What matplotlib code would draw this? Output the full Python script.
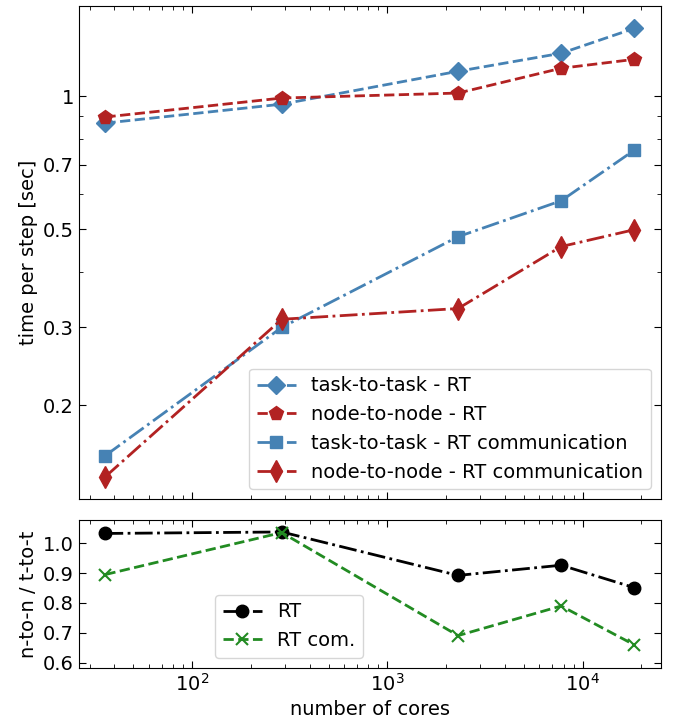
import matplotlib
matplotlib.use("Agg")
import matplotlib.pyplot as plt
from matplotlib.ticker import FixedLocator, LogLocator, NullFormatter, FixedFormatter, NullLocator
import numpy as np

# number of cores used in each run
cores = [36, 288, 2304, 7776, 18432]

# time per step [sec]
t2t_rt = [0.869, 0.959, 1.138, 1.250, 1.423]
n2n_rt = [0.897, 0.990, 1.016, 1.156, 1.211]
t2t_comm = [0.154, 0.300, 0.481, 0.580, 0.755]
n2n_comm = [0.138, 0.313, 0.331, 0.457, 0.499]

# ratios node-to-node / task-to-task
ratio_rt = [1.032, 1.037, 0.892, 0.926, 0.851]
ratio_com = [0.895, 1.035, 0.691, 0.790, 0.660]

yticks_top = [0.2, 0.3, 0.5, 0.7, 1.0]
yticklabels_top = ["0.2", "0.3", "0.5", "0.7", "1"]
yticks_bot = [0.6, 0.7, 0.8, 0.9, 1.0]

plt.rcParams.update({
    "font.family": "DejaVu Sans",
    "font.size": 14,
    "xtick.direction": "in",
    "ytick.direction": "in",
    "xtick.top": True,
    "ytick.right": True,
    "xtick.major.size": 5,
    "ytick.major.size": 5,
    "xtick.minor.size": 2.8,
    "ytick.minor.size": 2.8,
    "xtick.minor.visible": True,
})

BLUE = "#4682B4"
RED = "#B22222"
GREEN = "#228B22"

fig = plt.figure(figsize=(6.75, 7.23), dpi=100)
ax = fig.add_axes([0.117, 0.3098, 0.862, 0.682])
axr = fig.add_axes([0.117, 0.0761, 0.862, 0.2047], sharex=ax)

ax.plot(cores, t2t_rt, ls="--", color=BLUE, marker="D", ms=9, lw=2,
        label="task-to-task - RT")
ax.plot(cores, n2n_rt, ls="--", color=RED, marker="p", ms=10, lw=2,
        label="node-to-node - RT")
ax.plot(cores, t2t_comm, ls="-.", color=BLUE, marker="s", ms=9, lw=2,
        label="task-to-task - RT communication")
ax.plot(cores, n2n_comm, ls="-.", color=RED, marker="d", ms=11, lw=2,
        label="node-to-node - RT communication")

ax.set_xscale("log")
ax.set_yscale("log")
ax.yaxis.set_major_locator(FixedLocator(yticks_top))
ax.yaxis.set_major_formatter(FixedFormatter(yticklabels_top))
ax.yaxis.set_minor_locator(LogLocator(base=10, subs=np.arange(2, 10)))
ax.yaxis.set_minor_formatter(NullFormatter())
ax.set_ylabel("time per step [sec]")
ax.tick_params(axis="x", which="both", labelbottom=False)
ax.legend(loc="lower right", handlelength=2.0)

axr.plot(cores, ratio_rt, ls="-.", color="black", marker="o", ms=9, lw=2,
         label="RT")
axr.plot(cores, ratio_com, ls="--", color=GREEN, marker="x", ms=9, lw=2,
         mew=1.5, label="RT com.")
axr.set_ylim(0.583, 1.077)
axr.yaxis.set_major_locator(FixedLocator(yticks_bot))
axr.yaxis.set_minor_locator(NullLocator())
axr.set_ylabel("n-to-n / t-to-t")
axr.set_xlabel("number of cores")
axr.legend(loc="lower left", bbox_to_anchor=(0.234, 0.068), borderaxespad=0)

fig.align_ylabels([ax, axr])
fig.savefig("out.png", dpi=100)
